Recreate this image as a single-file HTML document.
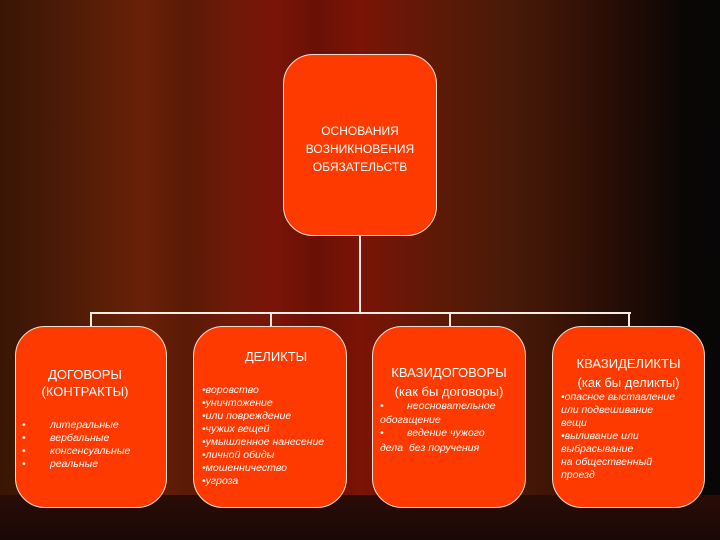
<!DOCTYPE html>
<html><head><meta charset="utf-8"><style>
*{margin:0;padding:0;box-sizing:border-box}
body{width:720px;height:540px;overflow:hidden;position:relative;font-family:"Liberation Sans","DejaVu Sans",sans-serif;color:#fff;
background:linear-gradient(90deg,#3a1505 0%,#4a1a06 8%,#5a1e06 14%,#6a2008 20%,#5a1a06 26%,#6e1a08 32%,#7a1408 38%,#6a1006 44%,#7a1406 50%,#6a1608 56%,#5a1a06 62%,#4a1a08 70%,#3a1406 78%,#2a0e06 84%,#1a0a06 90%,#0a0606 95%,#080606 100%);}
.floor{position:absolute;left:0;top:495px;width:720px;height:45px;background:linear-gradient(180deg,#2a0c06,#1a0806)}
.box{position:absolute;background:#ff3a00;border:1.5px solid #f3e0d0;border-radius:30px}
.ln{position:absolute;background:#f3ece6}
.t{position:absolute;font-size:13px;text-align:center;line-height:17px}
.i{position:absolute;font-size:10.5px;font-style:italic;line-height:13px;white-space:nowrap}
</style></head><body>
<div class="floor"></div>
<div class="ln" style="left:359px;top:235px;width:2px;height:79px"></div>
<div class="ln" style="left:90px;top:312px;width:541px;height:2px"></div>
<div class="ln" style="left:90px;top:312px;width:2px;height:15px"></div>
<div class="ln" style="left:270px;top:312px;width:2px;height:15px"></div>
<div class="ln" style="left:449px;top:312px;width:2px;height:15px"></div>
<div class="ln" style="left:628px;top:312px;width:2px;height:15px"></div>

<div class="box" style="left:283px;top:54px;width:154px;height:182px"></div>
<div class="t" style="left:283px;top:122px;width:154px;font-size:12px;line-height:18px">ОСНОВАНИЯ<br>ВОЗНИКНОВЕНИЯ<br>ОБЯЗАТЕЛЬСТВ</div>

<div class="box" style="left:15px;top:326px;width:152px;height:182px"></div>
<div class="t" style="left:15px;top:366px;width:140px;font-size:13px;line-height:17px">ДОГОВОРЫ<br>(КОНТРАКТЫ)</div>
<div class="i" style="left:22px;top:419px;line-height:13px">•<br>•<br>•<br>•</div>
<div class="i" style="left:50px;top:419px">литеральные<br>вербальные<br>консенсуальные<br>реальные</div>

<div class="box" style="left:193px;top:326px;width:154px;height:182px"></div>
<div class="t" style="left:193px;top:348px;width:166px">ДЕЛИКТЫ</div>
<div class="i" style="left:202px;top:384px">•воровство<br>•уничтожение<br>•или повреждение<br>•чужих вещей<br>•умышленное нанесение<br>•личной обиды<br>•мошенничество<br>•угроза</div>

<div class="box" style="left:372px;top:326px;width:154px;height:182px"></div>
<div class="t" style="left:372px;top:363px;width:154px;line-height:19px">КВАЗИДОГОВОРЫ<br>(как бы договоры)</div>
<div class="i" style="left:380px;top:400px;line-height:13.5px">•&nbsp;&nbsp;&nbsp;&nbsp;&nbsp;&nbsp;&nbsp;&nbsp;неосновательное<br>обогащение<br>•&nbsp;&nbsp;&nbsp;&nbsp;&nbsp;&nbsp;&nbsp;&nbsp;ведение чужого</div>
<div class="i" style="left:380px;top:442px">дела&nbsp; без поручения</div>

<div class="box" style="left:552px;top:326px;width:153px;height:182px"></div>
<div class="t" style="left:552px;top:354px;width:153px;line-height:19px">КВАЗИДЕЛИКТЫ<br>(как бы деликты)</div>
<div class="i" style="left:561px;top:391px">•опасное выставление<br>или подвешивание<br>вещи<br>•выливание или<br>выбрасывание<br>на общественный<br>проезд</div>
</body></html>
